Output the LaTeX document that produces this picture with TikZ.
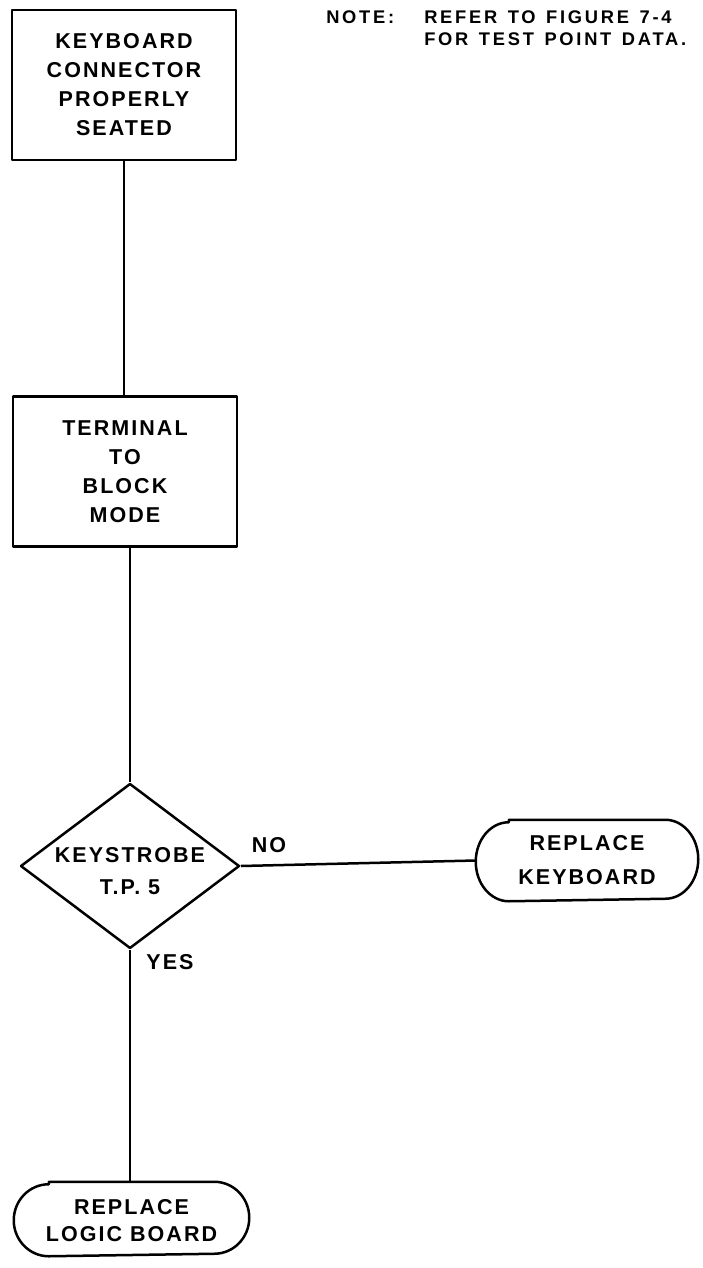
\documentclass[tikz,border=0pt]{standalone}
\usepackage{fontspec}
\setmainfont{Liberation Sans}
\newfontfamily\chartfont{Liberation Sans Bold}[LetterSpace=9.5]
\newfontfamily\notefont{Liberation Sans Bold}[LetterSpace=15,WordSpace=1.35]
\usetikzlibrary{shapes.geometric,calc}
\begin{document}
\begin{tikzpicture}[x=1pt,y=1pt,line width=2.5pt,line join=round,
  txt/.style={font=\chartfont\fontsize{21.5}{#1}\selectfont, align=center, inner sep=0pt},
  txt/.default=29,
  notetxt/.style={font=\notefont\fontsize{18.3}{22.5}\selectfont, align=left, inner sep=0pt},
  stepbox/.style={draw, rectangle, minimum width=224pt, minimum height=150pt, inner sep=0pt},
  decision/.style={draw, diamond, minimum width=219pt, minimum height=165pt, inner sep=0pt, aspect=1.33},
  endframe/.style={rectangle, inner sep=0pt}
]
\useasboundingbox (0,0) rectangle (703,-1268);

% process boxes
\node[stepbox, txt] (b1) at (124,-85) {KEYBOARD\\CONNECTOR\\PROPERLY\\SEATED};
\node[stepbox, txt] (b2) at (125,-471.5) {TERMINAL\\TO\\BLOCK\\MODE};

% decision
\node[decision] (dia) at (130,-866) {};
\node[txt=32] (diatext) at ($(dia.center)+(0,-5)$) {KEYSTROBE\\T.P. 5};

% terminal boxes with elliptical ends
\node[endframe, minimum width=220pt, minimum height=79pt] (rk) at (587,-860.5) {};
\node[txt=34] (rktext) at (rk.center) {REPLACE\\KEYBOARD};
\draw ($(rk.north west)+(33,0)$) -- ($(rk.north east)+(-33,0)$)
  arc[start angle=90,end angle=-90,x radius=33,y radius=39.5]
  -- ($(rk.south west)+(33,0)$)
  arc[start angle=270,end angle=90,x radius=33,y radius=39.5] -- cycle;

\node[endframe, minimum width=233pt, minimum height=72pt] (rl) at (131.5,-1219) {};
\node[txt=27] (rltext) at ($(rl.center)+(0,-2)$) {REPLACE\\LOGIC BOARD};
\draw ($(rl.north west)+(35,0)$) -- ($(rl.north east)+(-35,0)$)
  arc[start angle=90,end angle=-90,x radius=35,y radius=36]
  -- ($(rl.south west)+(35,0)$)
  arc[start angle=270,end angle=90,x radius=35,y radius=36] -- cycle;

% connectors
\draw (b1.south) -- (b1.south |- b2.north);
\draw (dia.north |- b2.south) -- (dia.north);
\draw (dia.east) -- (rk.west);
\draw (dia.south) -- (dia.south |- rl.north);

% branch labels
\node[txt] (no) at (269,-845) {NO};
\node[txt] (yes) at (170,-962) {YES};

% note
\node[notetxt, anchor=north west] (notehead) at (325,-9.3) {NOTE:};
\node[notetxt, anchor=north west] (notebody) at (423,-9.3) {REFER TO FIGURE 7-4\\FOR TEST POINT DATA.};
\end{tikzpicture}
\end{document}
